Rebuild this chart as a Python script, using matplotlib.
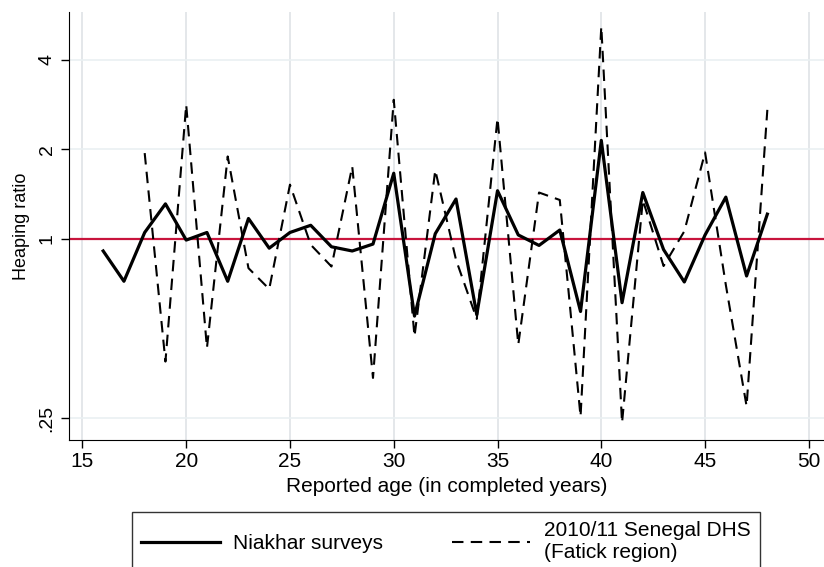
import matplotlib.pyplot as plt

plt.rcParams['font.family'] = ['Liberation Sans', 'DejaVu Sans']

ages_niakhar = list(range(16, 49))
niakhar = [0.91, 0.72, 1.05, 1.31, 0.99, 1.05, 0.72, 1.17, 0.93, 1.05, 1.11, 0.94,
           0.91, 0.96, 1.66, 0.55, 1.04, 1.36, 0.556, 1.45, 1.03, 0.95, 1.07, 0.57,
           2.14, 0.61, 1.43, 0.92, 0.716, 1.03, 1.38, 0.75, 1.21]

ages_dhs = list(range(18, 49))
dhs = [1.94, 0.387, 2.82, 0.43, 1.89, 0.797, 0.678, 1.52, 0.955, 0.807,
       1.75, 0.341, 2.93, 0.47, 1.70, 0.85, 0.538, 2.54, 0.441, 1.43, 1.35, 0.253,
       5.16, 0.241, 1.35, 0.81, 1.06, 1.95, 0.70, 0.274, 2.71]

xticks = [15, 20, 25, 30, 35, 40, 45, 50]
yticks = [0.25, 1, 2, 4]
ytick_labels = ['.25', '1', '2', '4']

fig = plt.figure(figsize=(8.24, 5.67), dpi=100)
ax = fig.add_axes([0.0834, 0.224, 0.9166, 0.755])

# light grid at the ticks, like Stata's default scheme
for x in xticks:
    ax.axvline(x, color='#dfe3e6', lw=1.2, zorder=0)
for y in yticks:
    ax.axhline(y, color='#eaf0f2', lw=1.2, zorder=0)

ax.plot(ages_niakhar, niakhar, color='black', lw=2.3, label='Niakhar surveys', zorder=3)
ax.plot(ages_dhs, dhs, color='black', lw=1.5, ls=(0, (5.5, 3.5)),
        label='2010/11 Senegal DHS\n(Fatick region)', zorder=3)
ax.axhline(1, color='#c8143c', lw=1.6, zorder=2)

ax.set_yscale('log', base=2)
ax.set_xlim(14.34, 50.73)
ax.set_ylim(0.211, 5.78)
ax.set_xticks(xticks)
ax.set_yticks(yticks)
ax.set_yticklabels(ytick_labels, rotation=90, va='center')
ax.minorticks_off()
ax.tick_params(direction='out', length=6, width=1)
ax.tick_params(axis='x', labelsize=15, pad=3)
ax.tick_params(axis='y', labelsize=14)
ax.set_xlabel('Reported age (in completed years)', fontsize=15, labelpad=4)
ax.set_ylabel('Heaping ratio', fontsize=13, labelpad=6)

ax.spines['top'].set_visible(False)
ax.spines['right'].set_visible(False)

leg = fig.legend(loc='upper left', bbox_to_anchor=(132 / 824, 1 - 512 / 567, 628 / 824, 0),
                 mode='expand', ncol=2, fontsize=15, frameon=True, fancybox=False,
                 edgecolor='black', borderaxespad=0, handlelength=3.75,
                 handletextpad=0.65, borderpad=0.45)
leg.get_frame().set_linewidth(1)

fig.savefig('out.png', dpi=100)
